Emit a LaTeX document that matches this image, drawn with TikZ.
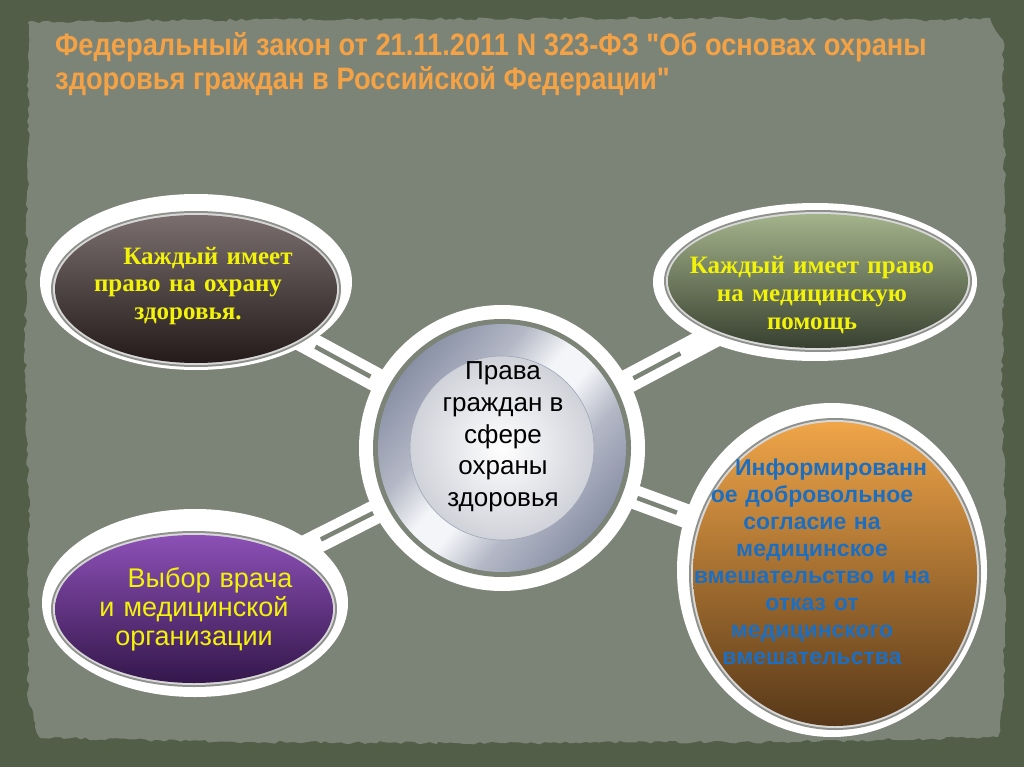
\documentclass[tikz,border=0pt]{standalone}
\usepackage{fontspec}
\setmainfont{Liberation Serif}
\newfontfamily\arialf{Liberation Sans}
\newfontfamily\timesf{Liberation Serif}
\newfontfamily\narrowf{Liberation Sans}[FakeStretch=0.88]
\usetikzlibrary{calc,decorations.pathmorphing}

\definecolor{framec}{HTML}{525E48}
\definecolor{paperc}{HTML}{7C8377}
\definecolor{titlec}{HTML}{F4A246}
\definecolor{yel}{HTML}{F2F20A}
\definecolor{bluetx}{HTML}{1E6EC0}
\definecolor{rimgrey}{HTML}{8F918C}
\definecolor{rimlight}{HTML}{D8D8D8}
\definecolor{svdark}{HTML}{8A91A6}
\definecolor{svmid}{HTML}{B4B8C6}
\definecolor{svwhite}{HTML}{F4F5F8}
\definecolor{tltop}{HTML}{7A6E6E}
\definecolor{tlbot}{HTML}{241A1A}
\definecolor{trtop}{HTML}{A3B38B}
\definecolor{trbot}{HTML}{384030}
\definecolor{bltop}{HTML}{8C50B6}
\definecolor{blbot}{HTML}{34174B}
\definecolor{brtop}{HTML}{F0A548}
\definecolor{brmid}{HTML}{B97A3A}
\definecolor{brbot}{HTML}{573819}
\definecolor{innerout}{HTML}{D0D2D9}

\pgfdeclarehorizontalshading{silverring}{100bp}{color(0bp)=(svdark); color(25bp)=(svdark); color(38bp)=(svmid); color(47bp)=(svwhite); color(53bp)=(svwhite); color(62bp)=(svmid); color(75bp)=(svdark); color(100bp)=(svdark)}

\tikzset{
  band/.style={draw=white, line width=24pt},
  slot/.style={draw=paperc, line width=4.5pt},
  outerw/.style={fill=white},
  rimg/.style={fill=rimgrey},
  riml/.style={fill=rimlight},
  txt/.style={align=center, inner sep=0pt},
  ttl/.style={anchor=base west, inner sep=0pt, text=titlec, font=\narrowf\bfseries\fontsize{31}{35}\selectfont}
}

\begin{document}
\begin{tikzpicture}[x=1pt,y=-1pt]
\useasboundingbox (0,0) rectangle (1024,767);
% frame and paper
\fill[framec] (0,0) rectangle (1024,767);
\fill[paperc, decorate, decoration={random steps, segment length=5pt, amplitude=1.6pt}]
  (28,22) -- (200,20) -- (450,19) -- (700,18) -- (930,20) -- (990,18) -- (1003,40)
  -- (1005,200) -- (1002,380) -- (1006,560) -- (1003,700) -- (998,737)
  -- (780,742) -- (500,743) -- (250,742) -- (40,738) -- (28,700)
  -- (29,520) -- (25,350) -- (28,150) -- cycle;

% title
\node[ttl] (t1) at (55,56) {Федеральный закон от 21.11.2011 N 323-ФЗ "Об основах охраны};
\node[ttl] (t2) at (55,90) {здоровья граждан в Российской Федерации"};

% hub and satellites positions
\coordinate (c) at (502,448);
\coordinate (tl) at (196,282);
\coordinate (tr) at (815,282);
\coordinate (bl) at (195,603);
\coordinate (br) at (832,570);

% connectors
\foreach \s/\a/\b in {tl/0.43/0.61, tr/0.42/0.57, bl/0.42/0.59, br/0.41/0.53} {
  \draw[band] (c) -- (\s);
  \draw[slot] ($(c)!\a!(\s)$) -- ($(c)!\b!(\s)$);
}

% central circle
\fill[white] (c) circle[radius=143];
\fill[paperc] (c) circle[radius=129];
\shade[shading=silverring, shading angle=-40] (c) circle[radius=124];
\shade[inner color=white, outer color=innerout, draw=svdark!80, line width=0.6pt] (c) circle[radius=92];

% top-left
\fill[outerw] (tl) ellipse[x radius=156, y radius=88];
\fill[rimg] (196,289) ellipse[x radius=145, y radius=78];
\fill[riml] (196,289) ellipse[x radius=143, y radius=76];
\shade[top color=tltop, bottom color=tlbot] (196,289) ellipse[x radius=141, y radius=74];

% top-right
\fill[outerw] (tr) ellipse[x radius=162, y radius=79];
\fill[rimg] (818,281) ellipse[x radius=154, y radius=71];
\fill[riml] (818,281) ellipse[x radius=152, y radius=69];
\shade[top color=trtop, bottom color=trbot] (818,281) ellipse[x radius=150, y radius=67];

% bottom-left
\fill[outerw] (bl) ellipse[x radius=153, y radius=94];
\fill[rimg] (194,609) ellipse[x radius=143, y radius=78];
\fill[riml] (194,609) ellipse[x radius=141, y radius=76];
\shade[top color=bltop, bottom color=blbot] (194,609) ellipse[x radius=139, y radius=74];

% bottom-right
\fill[outerw] (br) ellipse[x radius=155, y radius=167];
\fill[rimg] (835,574) ellipse[x radius=146, y radius=156];
\fill[riml] (835,574) ellipse[x radius=144, y radius=154];
\shade[top color=brtop, middle color=brmid, bottom color=brbot] (835,574) ellipse[x radius=142, y radius=152];

% texts
\node[txt, text=black, font=\arialf\fontsize{26}{31.7}\selectfont] (ct) at (503,437)
  {Права\\граждан в\\сфере\\охраны\\здоровья};
\node[txt, text=yel, text width=230pt, font=\timesf\bfseries\fontsize{25}{27.5}\selectfont] (tlt) at (188,286)
  {\hspace*{40pt}Каждый имеет\\право на охрану\\здоровья.};
\node[txt, text=yel, text width=280pt, font=\timesf\bfseries\fontsize{25}{28}\selectfont] (trt) at (812,295)
  {Каждый имеет право\\на медицинскую\\помощь};
\node[txt, text=yel, text width=240pt, font=\arialf\fontsize{27}{29}\selectfont] (blt) at (194,609)
  {\hspace*{32pt}Выбор врача\\и медицинской\\организации};
\node[txt, text=bluetx, text width=270pt, font=\arialf\bfseries\fontsize{23}{27}\selectfont] (brt) at (812,562)
  {\hspace*{38pt}Информированн\\ое добровольное\\согласие на\\медицинское\\вмешательство и на\\отказ от\\медицинского\\вмешательства};
\end{tikzpicture}
\end{document}
